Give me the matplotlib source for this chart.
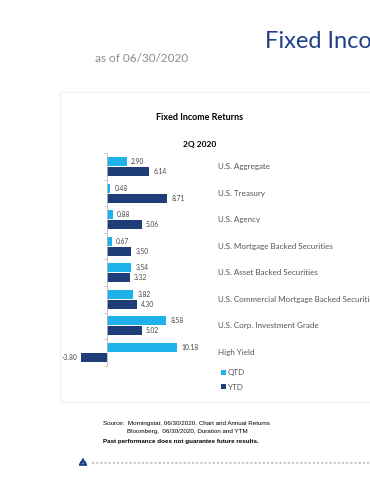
import matplotlib
matplotlib.use('Agg')
import matplotlib.pyplot as plt
import matplotlib.patches as mpatches
import numpy as np

# ── data ──────────────────────────────────────────────────────────────
categories = ['U.S. Aggregate', 'U.S. Treasury', 'U.S. Agency',
              'U.S. Mortgage Backed Securities', 'U.S. Asset Backed Securities',
              'U.S. Commercial Mortgage Backed Securities',
              'U.S. Corp. Investment Grade', 'High Yield']
qtd = [2.90, 0.48, 0.88, 0.67, 3.54, 3.82, 8.58, 10.18]
ytd = [6.14, 8.71, 5.06, 3.50, 3.32, 4.30, 5.02, -3.80]
series_names = ['QTD', 'YTD']

COL_QTD = '#1fb2ea'
COL_YTD = '#1f3d78'
NAVY = '#1f3f86'
FONT = 'Lato'

W, H = 370, 480
fig = plt.figure(figsize=(W / 100, H / 100), dpi=100)
fig.patch.set_facecolor('white')


def fx(px):
    return px / W


def fy(py):
    return 1 - py / H


# header
fig.text(fx(265), fy(48), 'Fixed Income', fontsize=17, color=NAVY,
         family=FONT, ha='left', va='baseline')
fig.text(fx(95), fy(59), 'as of 06/30/2020', fontsize=8.5, color='#8c8c8c',
         family=FONT, ha='left', va='center')

# panel (behind the chart), faint edge
panel = mpatches.Rectangle((fx(60), fy(402)), fx(330), fy(92) - fy(402),
                           transform=fig.transFigure, facecolor='white',
                           edgecolor='#f2f2f2', linewidth=1.0, zorder=-5)
fig.patches.append(panel)

fig.text(fx(200), fy(117), 'Fixed Income Returns', fontsize=6.5,
         fontweight='bold', family=FONT, ha='center', va='center')
fig.text(fx(200), fy(145), '2Q 2020', fontsize=6, fontweight='bold',
         family=FONT, ha='center', va='center')

# chart axes
ax = fig.add_axes([fx(70), fy(367), fx(140), fy(152) - fy(367)], zorder=2)
ax.set_xlim((70 - 107) / 6.9, (210 - 107) / 6.9)
ax.set_ylim(7.55, -0.55)
ax.patch.set_alpha(0)

y = np.arange(len(categories))
off, bh = 0.19, 0.34
b1 = ax.barh(y - off, qtd, height=bh, color=COL_QTD, label=series_names[0])
b2 = ax.barh(y + off, ytd, height=bh, color=COL_YTD, label=series_names[1])

for bars, vals in ((b1, qtd), (b2, ytd)):
    for rect, v in zip(bars, vals):
        cy = rect.get_y() + rect.get_height() / 2
        if v >= 0:
            ax.text(v + 0.6, cy, f'{v:.2f}', fontsize=4.8, family=FONT,
                    ha='left', va='center', color='#444444')
        else:
            ax.text(v - 0.5, cy, f'{v:.2f}', fontsize=4.8, family=FONT,
                    ha='right', va='center', color='#444444')

for s in ('top', 'right', 'bottom'):
    ax.spines[s].set_visible(False)
ax.spines['left'].set_position(('data', 0))
ax.spines['left'].set_color('#bbbbbb')
ax.spines['left'].set_linewidth(0.6)
ax.spines['left'].set_bounds(-0.5, 7.5)
ax.set_xticks([])
ax.set_yticks(np.arange(-0.5, 8, 1))
ax.set_yticklabels([])
ax.tick_params(axis='y', length=2, width=0.5, color='#bbbbbb', direction='out')

# category labels on the right
trans = matplotlib.transforms.blended_transform_factory(fig.transFigure, ax.transData)
for i, c in enumerate(categories):
    ax.text(fx(218), i, c, transform=trans, fontsize=5.8, family=FONT,
            color='#555555', ha='left', va='center', clip_on=False)

fig.legend(handles=[b1, b2], labels=series_names, loc='upper left',
           bbox_to_anchor=(fx(214), fy(362)), frameon=False,
           prop={'family': FONT, 'size': 5.8}, handlelength=0.6,
           handleheight=0.6, handletextpad=0.2, labelspacing=0.9,
           labelcolor='#555555')

# footer
fig.text(fx(103), fy(423), 'Source:  Morningstar, 06/30/2020. Chart and Annual Returns',
         fontsize=4.5, family='Liberation Sans', ha='left', va='center')
fig.text(fx(127), fy(432), 'Bloomberg,  06/30/2020, Duration and YTM',
         fontsize=4.5, family='Liberation Sans', ha='left', va='center')
fig.text(fx(103), fy(441), 'Past performance does not guarantee future results.',
         fontsize=4.5, family='Liberation Sans', fontweight='bold',
         ha='left', va='center')

# dotted rule with small logo
fig.lines.append(plt.Line2D([fx(92), fx(370)], [fy(463), fy(463)],
                            transform=fig.transFigure, color='#c8c8c8',
                            linestyle=(0, (1, 1)), linewidth=1.5))
for dx, dy in ((0, 0), (4, 0), (2, -3)):
    fig.patches.append(mpatches.RegularPolygon((fx(81 + dx), fy(464 + dy)), 3,
                                               radius=0.005, transform=fig.transFigure,
                                               color=NAVY))

fig.savefig('out.png', dpi=100, facecolor='white')
